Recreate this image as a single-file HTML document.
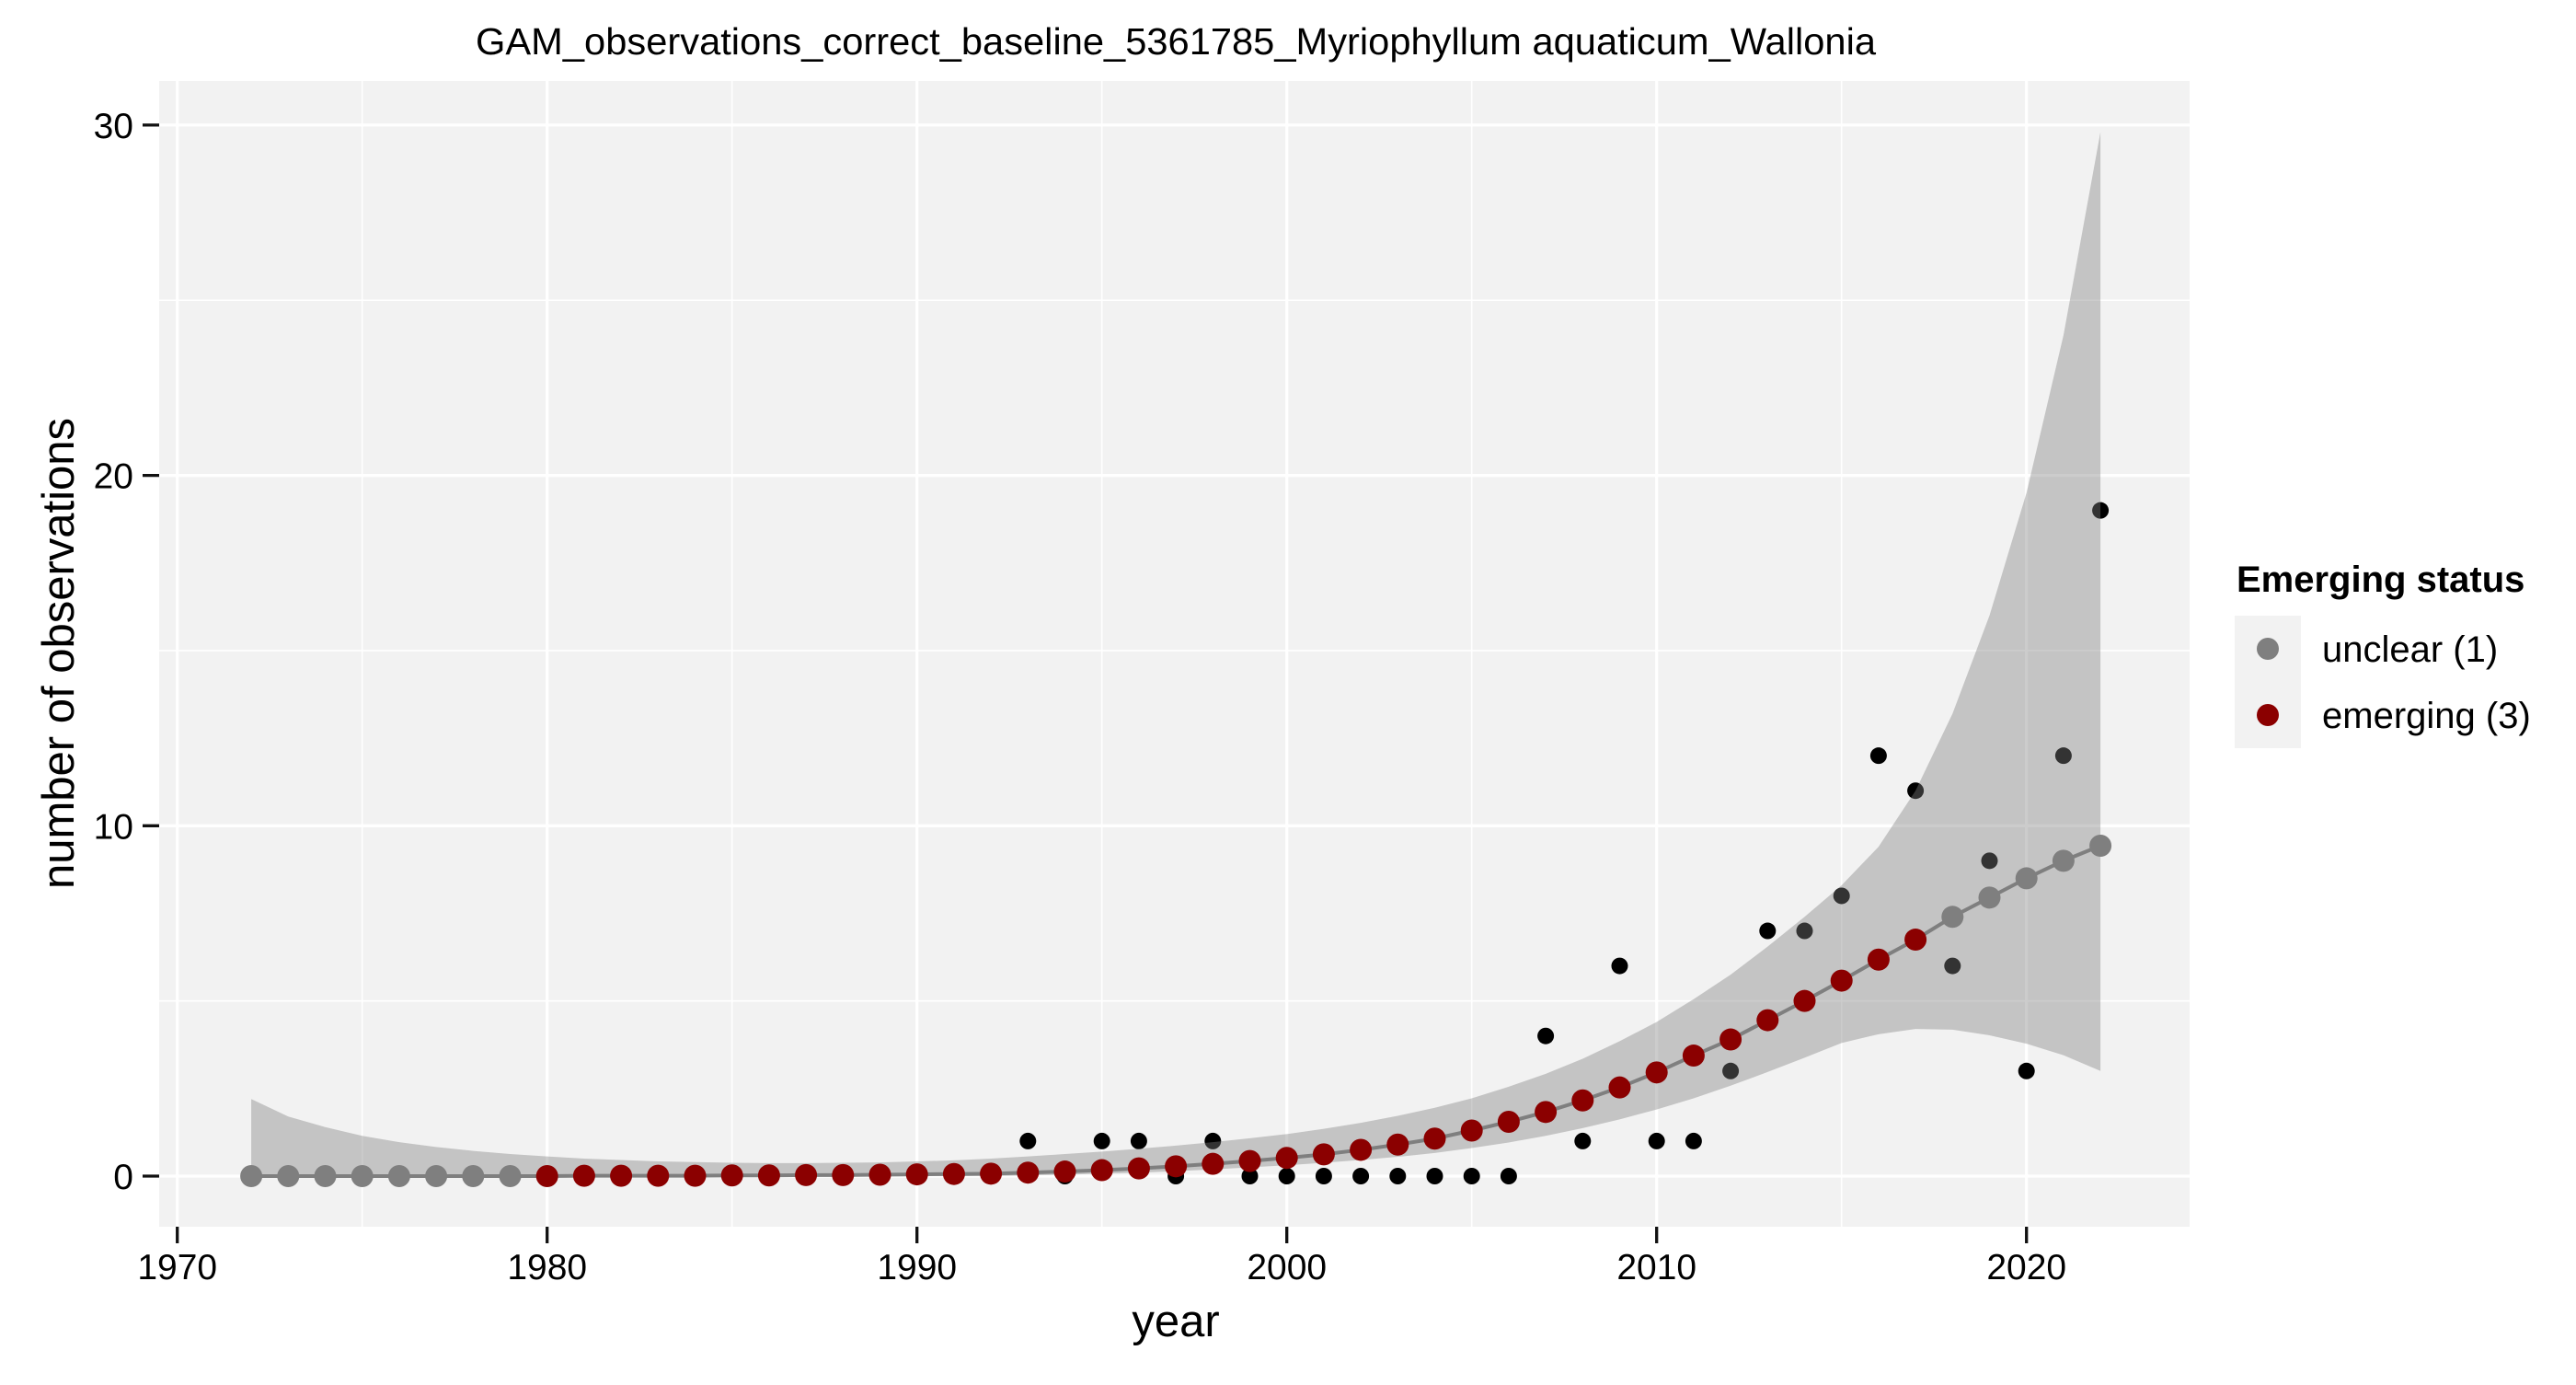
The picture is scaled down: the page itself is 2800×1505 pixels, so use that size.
<!DOCTYPE html>
<html><head><meta charset="utf-8"><style>
html,body{margin:0;padding:0;background:#fff}
svg text{font-family:"Liberation Sans",Arial,sans-serif}
</style></head><body>
<svg id="chart" width="2800" height="1500" viewBox="0 0 2800 1500" xmlns="http://www.w3.org/2000/svg">
<rect x="0" y="0" width="2800" height="1500" fill="#fff"/>
<text x="1278" y="59" font-size="41" text-anchor="middle" textLength="1522" lengthAdjust="spacingAndGlyphs" fill="#000">GAM_observations_correct_baseline_5361785_Myriophyllum aquaticum_Wallonia</text>
<rect x="173" y="88" width="2207" height="1245" fill="#F2F2F2"/>
<g id="grid"></g>
<g id="obs"></g>
<g id="ribbon"></g>
<g id="fitline"></g>
<g id="fitpts"></g>
<g id="axes"></g>
<text x="1278" y="1452" font-size="49" text-anchor="middle" fill="#000">year</text>
<text transform="translate(80,710) rotate(-90)" font-size="49" text-anchor="middle" fill="#000">number of observations</text>
<g>
<text x="2431" y="643" font-size="40" font-weight="bold" fill="#000">Emerging status</text>
<rect x="2429" y="669" width="72" height="144" fill="#F2F2F2"/>
<circle cx="2465" cy="705" r="12" fill="#7F7F7F"/>
<circle cx="2465" cy="777" r="12" fill="#8B0000"/>
<text x="2524" y="719" font-size="40" fill="#000">unclear (1)</text>
<text x="2524" y="791" font-size="40" fill="#000">emerging (3)</text>
</g>
</svg>
<script>
const years = [1972,1973,1974,1975,1976,1977,1978,1979,1980,1981,1982,1983,1984,1985,1986,1987,1988,1989,1990,1991,1992,1993,1994,1995,1996,1997,1998,1999,2000,2001,2002,2003,2004,2005,2006,2007,2008,2009,2010,2011,2012,2013,2014,2015,2016,2017,2018,2019,2020,2021,2022];
const observed = [0,0,0,0,0,0,0,0,0,0,0,0,0,0,0,0,0,0,0,0,0,1,0,1,1,0,1,0,0,0,0,0,0,0,0,4,1,6,1,1,3,7,7,8,12,11,6,9,3,12,19];
const fitted = [0,0,0,0,0,0,0,0,0,0.01,0.01,0.01,0.01,0.02,0.02,0.03,0.03,0.04,0.05,0.06,0.07,0.1,0.13,0.17,0.22,0.28,0.35,0.43,0.52,0.62,0.75,0.9,1.07,1.3,1.55,1.83,2.16,2.53,2.96,3.44,3.9,4.45,5.0,5.58,6.18,6.75,7.4,7.95,8.5,9.0,9.43];
const upper = [2.2,1.7,1.4,1.15,0.97,0.83,0.72,0.63,0.56,0.5,0.46,0.42,0.4,0.38,0.37,0.37,0.38,0.39,0.42,0.45,0.5,0.56,0.63,0.7,0.78,0.87,0.97,1.08,1.2,1.35,1.52,1.72,1.95,2.22,2.55,2.92,3.35,3.85,4.4,5.05,5.75,6.55,7.4,8.3,9.4,11.0,13.2,16.0,19.5,24.0,29.8];
const lower = [0,0,0,0,0,0,0,0,0,0,0,0,0,0,0,0,0,0,0,0,0,0.02,0.04,0.07,0.1,0.14,0.19,0.25,0.31,0.38,0.46,0.55,0.66,0.8,0.96,1.15,1.37,1.62,1.9,2.22,2.58,2.97,3.38,3.8,4.05,4.2,4.18,4.02,3.78,3.45,3.0];
const status = ["u","u","u","u","u","u","u","u","e","e","e","e","e","e","e","e","e","e","e","e","e","e","e","e","e","e","e","e","e","e","e","e","e","e","e","e","e","e","e","e","e","e","e","e","e","e","u","u","u","u","u"];
const xTicks = [1970,1980,1990,2000,2010,2020];
const xMinor = [1975,1985,1995,2005,2015];
const yTicks = [0,10,20,30];
const yMinor = [5,15,25];

const NS = "http://www.w3.org/2000/svg";
const X = y => 192.7 + (y - 1970) * 40.2;
const Y = v => 1278 - v * 38.07;
function mk(tag, attrs, parent){const e=document.createElementNS(NS,tag);for(const k in attrs)e.setAttribute(k,attrs[k]);parent.appendChild(e);return e;}
const grid=document.getElementById('grid'), axes=document.getElementById('axes');
yMinor.forEach(v=>{const l=mk('line',{x1:173,x2:2380,y1:Y(v),y2:Y(v),stroke:'#fff','stroke-width':1.6},grid);

});
xMinor.forEach(v=>{const l=mk('line',{x1:X(v),x2:X(v),y1:88,y2:1333,stroke:'#fff','stroke-width':1.6},grid);

});
yTicks.forEach(v=>{const l=mk('line',{x1:173,x2:2380,y1:Y(v),y2:Y(v),stroke:'#fff','stroke-width':3.3},grid);


const t=mk('line',{x1:155,x2:173,y1:Y(v),y2:Y(v),stroke:'#111','stroke-width':3.3},axes);


const tx=mk('text',{x:145,y:Y(v)+14,'font-size':39,'text-anchor':'end',fill:'#000'},axes);tx.textContent=v;

});
xTicks.forEach(v=>{const l=mk('line',{x1:X(v),x2:X(v),y1:88,y2:1333,stroke:'#fff','stroke-width':3.3},grid);


const t=mk('line',{x1:X(v),x2:X(v),y1:1333,y2:1351,stroke:'#111','stroke-width':3.3},axes);


const tx=mk('text',{x:X(v),y:1390,'font-size':39,'text-anchor':'middle',fill:'#000'},axes);tx.textContent=v;

});
const obs=document.getElementById('obs');
years.forEach((yr,i)=>{const c=mk('circle',{cx:X(yr),cy:Y(observed[i]),r:9,fill:'#000'},obs);

});
let d='M'+years.map((yr,i)=>X(yr)+','+Y(upper[i])).join('L');
for(let i=years.length-1;i>=0;i--) d+='L'+X(years[i])+','+Y(lower[i]);
const rib=mk('path',{d:d+'Z',fill:'rgba(127,127,127,0.4)'},document.getElementById('ribbon'));


const ln=mk('polyline',{points:years.map((yr,i)=>X(yr)+','+Y(fitted[i])).join(' '),fill:'none',stroke:'#7F7F7F','stroke-width':4},document.getElementById('fitline'));


const fp=document.getElementById('fitpts');
years.forEach((yr,i)=>{const c=mk('circle',{cx:X(yr),cy:Y(fitted[i]),r:12,fill:status[i]==='e'?'#8B0000':'#7F7F7F'},fp);

});
</script>
</body></html>
